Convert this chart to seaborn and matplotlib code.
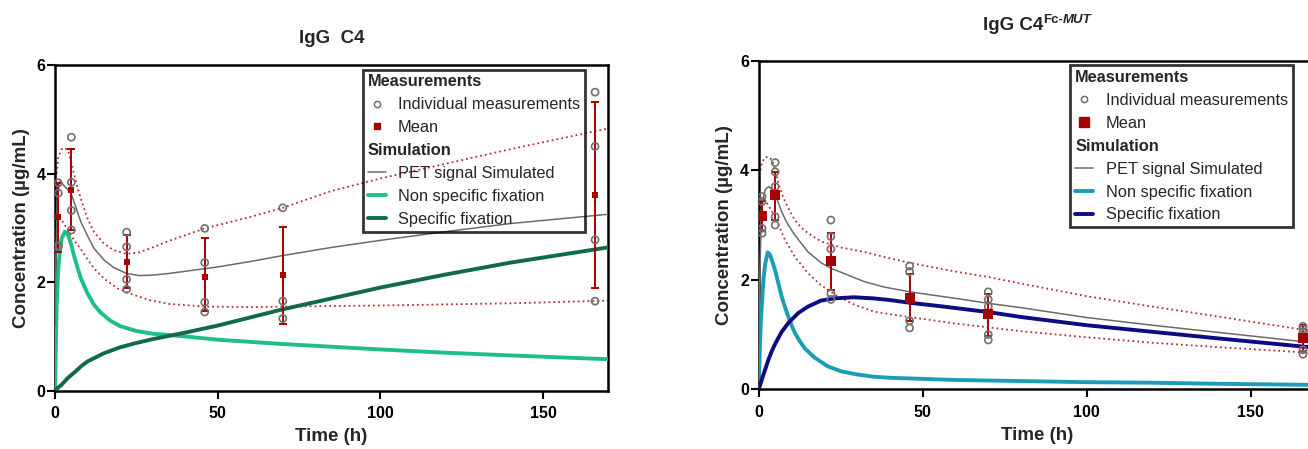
import numpy as np
import pandas as pd
import matplotlib
matplotlib.use("Agg")
import matplotlib.pyplot as plt
from matplotlib.lines import Line2D
import seaborn as sns

# ---------------- IgG C4 : measurements ----------------
c4_times = [1, 5, 22, 46, 70, 166]
c4_indiv = [[3.83, 3.64, 2.66, 2.67],
            [4.67, 3.84, 3.32, 2.96],
            [2.92, 2.65, 2.05, 1.87],
            [2.99, 2.36, 1.63, 1.45],
            [3.37, 1.65, 1.33],
            [5.50, 4.50, 2.78, 1.65]]
c4_mean = [3.20, 3.70, 2.38, 2.10, 2.13, 3.61]
c4_err_low = [2.56, 2.96, 1.90, 1.46, 1.23, 1.89]
c4_err_high = [3.83, 4.45, 2.87, 2.81, 3.01, 5.31]

# IgG C4 : simulations
c4_pet_t = [0, 0.3, 0.7, 1.3, 2, 3, 4, 5, 6, 7, 8, 10, 12, 15, 18, 22, 26, 30, 35, 50, 60, 70, 85, 100, 120, 140, 170]
c4_pet = [1.2, 2.6, 3.5, 3.85, 3.83, 3.76, 3.7, 3.62, 3.45, 3.27, 3.1, 2.85, 2.62, 2.41, 2.27, 2.16, 2.12, 2.13, 2.16,
          2.28, 2.38, 2.49, 2.64, 2.77, 2.93, 3.08, 3.25]
c4_up_t = [0.5, 1, 2, 3, 4, 5, 6, 7, 8, 10, 12, 15, 18, 22, 26, 30, 35, 46, 60, 70, 85, 100, 120, 140, 170]
c4_up = [4.0, 4.3, 4.45, 4.47, 4.43, 4.2, 3.95, 3.72, 3.52, 3.17, 2.92, 2.71, 2.59, 2.52, 2.55, 2.64, 2.76, 2.99,
         3.2, 3.37, 3.68, 3.91, 4.18, 4.45, 4.83]
c4_lo_t = [0.5, 1, 2, 3, 4, 5, 6, 8, 10, 12, 15, 19, 23, 29, 35, 46, 60, 70, 85, 100, 120, 140, 170]
c4_lo = [3.1, 3.18, 3.15, 3.05, 2.95, 2.85, 2.76, 2.6, 2.42, 2.25, 2.07, 1.89, 1.79, 1.67, 1.6, 1.55, 1.54, 1.55,
         1.56, 1.57, 1.59, 1.61, 1.66]
c4_nsf_t = [0, 0.25, 0.5, 1, 1.5, 2, 3, 4, 5, 6, 7, 8, 10, 12, 14, 17, 20, 25, 30, 40, 50, 60, 70, 85, 100, 120, 140, 170]
c4_nsf = [0, 0.9, 1.6, 2.25, 2.6, 2.8, 2.93, 2.87, 2.68, 2.45, 2.25, 2.06, 1.79, 1.58, 1.44, 1.29, 1.19, 1.1, 1.05,
          1.0, 0.94, 0.9, 0.86, 0.81, 0.76, 0.70, 0.65, 0.58]
c4_sf_t = [0, 1, 2, 4, 6, 8, 10, 15, 20, 25, 30, 40, 50, 60, 70, 85, 100, 120, 140, 170]
c4_sf = [0, 0.06, 0.11, 0.24, 0.34, 0.45, 0.54, 0.69, 0.8, 0.88, 0.95, 1.07, 1.2, 1.35, 1.5, 1.7, 1.9, 2.14, 2.36, 2.64]

# ---------------- IgG C4 Fc-MUT : measurements ----------------
mut_times = [1, 5, 22, 46, 70, 166]
mut_indiv = [[3.52, 3.43, 2.94, 2.85],
             [4.14, 3.97, 3.70, 3.15, 3.00],
             [3.09, 2.79, 2.56, 1.75, 1.64],
             [2.25, 2.15, 1.65, 1.25, 1.12],
             [1.78, 1.64, 1.51, 1.00, 0.90],
             [1.15, 1.10, 1.05, 0.72, 0.64]]
mut_mean = [3.17, 3.54, 2.34, 1.67, 1.37, 0.93]
mut_err_low = [2.89, 3.10, 1.81, 1.24, 0.98, 0.69]
mut_err_high = [3.44, 3.97, 2.86, 2.10, 1.74, 1.17]

# IgG C4 Fc-MUT : simulations
mut_pet_t = [0, 0.3, 0.7, 1.2, 2, 3, 4, 5, 6, 7, 8, 9, 10.5, 12, 15, 19, 22, 27, 32, 38, 46, 60, 70, 80, 100, 120,
             140, 166, 170]
mut_pet = [0.85, 2.0, 3.0, 3.45, 3.65, 3.70, 3.65, 3.55, 3.40, 3.24, 3.11, 3.0, 2.86, 2.74, 2.51, 2.31, 2.21, 2.09,
           1.97, 1.87, 1.78, 1.66, 1.57, 1.49, 1.31, 1.17, 1.04, 0.87, 0.85]
mut_up_t = [0.5, 1, 2, 3, 4, 5, 6, 7, 8, 9.5, 11, 13, 15, 19, 25, 32, 38, 46, 60, 70, 80, 100, 120, 140, 170]
mut_up = [4.0, 4.15, 4.24, 4.24, 4.19, 4.0, 3.76, 3.58, 3.43, 3.25, 3.09, 2.95, 2.85, 2.70, 2.59, 2.51, 2.42, 2.31,
          2.15, 2.05, 1.93, 1.70, 1.51, 1.33, 1.05]
mut_lo_t = [0.5, 1, 2, 3, 4, 5, 6, 8, 11, 15, 19, 24, 29, 35, 40, 46, 60, 70, 80, 100, 120, 140, 170]
mut_lo = [3.3, 3.45, 3.45, 3.35, 3.25, 3.15, 3.0, 2.73, 2.42, 2.12, 1.90, 1.70, 1.55, 1.42, 1.37, 1.32, 1.20, 1.13,
          1.06, 0.95, 0.85, 0.77, 0.66]
mut_nsf_t = [0, 0.3, 0.6, 1, 1.5, 2, 2.7, 3.3, 4, 5, 6, 7, 8, 9, 10, 11, 12.5, 14, 17, 21, 25, 30, 35, 40, 50, 60,
             80, 100, 120, 140, 170]
mut_nsf = [0, 0.7, 1.2, 1.6, 2.05, 2.3, 2.5, 2.47, 2.36, 2.17, 1.93, 1.69, 1.5, 1.33, 1.17, 1.03, 0.88, 0.75, 0.58,
           0.42, 0.33, 0.27, 0.23, 0.21, 0.19, 0.17, 0.15, 0.13, 0.12, 0.10, 0.08]
mut_sf_t = [0, 1, 2, 3, 4, 5, 7, 9, 12, 15, 19, 23, 29, 35, 40, 46, 55, 70, 80, 100, 120, 140, 166, 170]
mut_sf = [0, 0.19, 0.37, 0.55, 0.70, 0.83, 1.05, 1.21, 1.39, 1.51, 1.62, 1.66, 1.68, 1.66, 1.63, 1.58, 1.52, 1.41,
          1.32, 1.17, 1.05, 0.93, 0.78, 0.76]

GREY = "#6b6b6b"
RED = "#a80000"
DOT_RED = "#b5302f"
HEADERS = ["Measurements", "Simulation"]

sns.set_theme(style="ticks")
plt.rcParams["font.family"] = ["Liberation Sans", "DejaVu Sans"]
plt.rcParams["axes.linewidth"] = 1.8


def long_table(times, indiv):
    rows = [(t, v) for t, vals in zip(times, indiv) for v in vals]
    return pd.DataFrame(rows, columns=["time", "conc"])


def draw_panel(ax, d, nsf_color, sf_color, mean_size, leg_mean_ms):
    dot = (0, (1, 1.7))
    sns.lineplot(x=d["up_t"], y=d["up"], ax=ax, color=DOT_RED, lw=1.3, linestyle=dot, zorder=2)
    sns.lineplot(x=d["lo_t"], y=d["lo"], ax=ax, color=DOT_RED, lw=1.3, linestyle=dot, zorder=2)
    sns.lineplot(x=d["nsf_t"], y=d["nsf"], ax=ax, color=nsf_color, lw=2.8, zorder=3)
    sns.lineplot(x=d["sf_t"], y=d["sf"], ax=ax, color=sf_color, lw=2.8, zorder=3)
    sns.lineplot(x=d["pet_t"], y=d["pet"], ax=ax, color=GREY, lw=1.1, zorder=4)

    mean = np.array(d["mean"])
    yerr = [mean - np.array(d["low"]), np.array(d["high"]) - mean]
    ax.errorbar(d["times"], mean, yerr=yerr, fmt="none", ecolor=RED, elinewidth=1.4,
                capsize=3.2, capthick=1.4, zorder=5)

    pts = long_table(d["times"], d["indiv"])
    sns.scatterplot(data=pts, x="time", y="conc", ax=ax, marker="o", s=26,
                    edgecolor="#707070", linewidth=1.2, zorder=6, legend=False)
    ax.collections[-1].set_facecolor("none")
    sns.scatterplot(x=d["times"], y=d["mean"], ax=ax, marker="s", s=mean_size,
                    color=RED, edgecolor=RED, linewidth=0, zorder=7, legend=False)

    ax.set_xlim(0, 170)
    ax.set_ylim(0, 6)
    ax.set_xticks([0, 50, 100, 150])
    ax.set_yticks([0, 2, 4, 6])
    ax.tick_params(axis="both", direction="out", length=6, width=1.5, labelsize=11.5,
                   colors="black")
    ax.tick_params(axis="y", pad=1)
    ax.tick_params(axis="x", pad=5)
    for lab in ax.get_xticklabels() + ax.get_yticklabels():
        lab.set_fontweight("bold")
    for sp in ax.spines.values():
        sp.set_visible(True)
        sp.set_linewidth(1.8)
        sp.set_color("black")
    ax.set_xlabel("Time (h)", fontsize=13.5, fontweight="bold")
    ax.set_ylabel("Concentration (µg/mL)", fontsize=13.5, fontweight="bold")
    ax.xaxis.set_label_coords(0.5, -0.115)
    ax.yaxis.set_label_coords(-0.046, 0.5)

    blank = Line2D([], [], linestyle="none")
    handles = [blank,
               Line2D([], [], linestyle="none", marker="o", markersize=4.5, markerfacecolor="none",
                      markeredgecolor="#707070", markeredgewidth=1.1),
               Line2D([], [], linestyle="none", marker="s", markersize=leg_mean_ms, color=RED),
               blank,
               Line2D([], [], color=GREY, lw=1.1),
               Line2D([], [], color=nsf_color, lw=2.8),
               Line2D([], [], color=sf_color, lw=2.8)]
    labels = ["Measurements", "Individual measurements", "Mean", "Simulation",
              "PET signal Simulated", "Non specific fixation", "Specific fixation"]
    leg = ax.legend(handles, labels, loc="upper right", bbox_to_anchor=(0.958, 0.986),
                    borderaxespad=0, fontsize=11.8, handlelength=1.1, handletextpad=0.75,
                    labelspacing=0.48, borderpad=0.3, fancybox=False, frameon=True)
    leg.get_frame().set_edgecolor("black")
    leg.get_frame().set_linewidth(2)
    leg.get_frame().set_facecolor("none")
    for col in leg._legend_handle_box.get_children():
        for row in col.get_children():
            da, ta = row.get_children()
            if ta.get_text() in HEADERS:
                da.width = 0
                row.sep = 0
    for t in leg.get_texts():
        if t.get_text() in HEADERS:
            t.set_fontweight("bold")


fig = plt.figure(figsize=(13.08, 4.49), dpi=100)
ax1 = fig.add_axes([0.0421, 0.1298, 0.4228, 0.7254])
ax2 = fig.add_axes([0.5801, 0.1330, 0.4261, 0.7318])

c4 = dict(times=c4_times, indiv=c4_indiv, mean=c4_mean, low=c4_err_low, high=c4_err_high,
          pet_t=c4_pet_t, pet=c4_pet, up_t=c4_up_t, up=c4_up, lo_t=c4_lo_t, lo=c4_lo,
          nsf_t=c4_nsf_t, nsf=c4_nsf, sf_t=c4_sf_t, sf=c4_sf)
mut = dict(times=mut_times, indiv=mut_indiv, mean=mut_mean, low=mut_err_low, high=mut_err_high,
           pet_t=mut_pet_t, pet=mut_pet, up_t=mut_up_t, up=mut_up, lo_t=mut_lo_t, lo=mut_lo,
           nsf_t=mut_nsf_t, nsf=mut_nsf, sf_t=mut_sf_t, sf=mut_sf)

draw_panel(ax1, c4, "#1dbf87", "#0f6b45", 20, 4.5)
draw_panel(ax2, mut, "#1a9db8", "#0c0c80", 55, 7.5)

# titles
fig.text(0.2534, 0.915, "IgG  C4", ha="center", va="center", fontsize=13.5, fontweight="bold")
main = fig.text(0.7974, 0.944, "IgG C4", ha="right", va="center", fontsize=13.5, fontweight="bold")
sup = plt.annotate("Fc-", xy=(1, 0.78), xycoords=main, ha="left", va="center",
                   fontsize=9.5, fontweight="bold")
plt.annotate("MUT", xy=(1, 0.5), xycoords=sup, ha="left", va="center",
             fontsize=9.5, fontweight="bold", fontstyle="italic")

fig.savefig("out.png", dpi=100)
